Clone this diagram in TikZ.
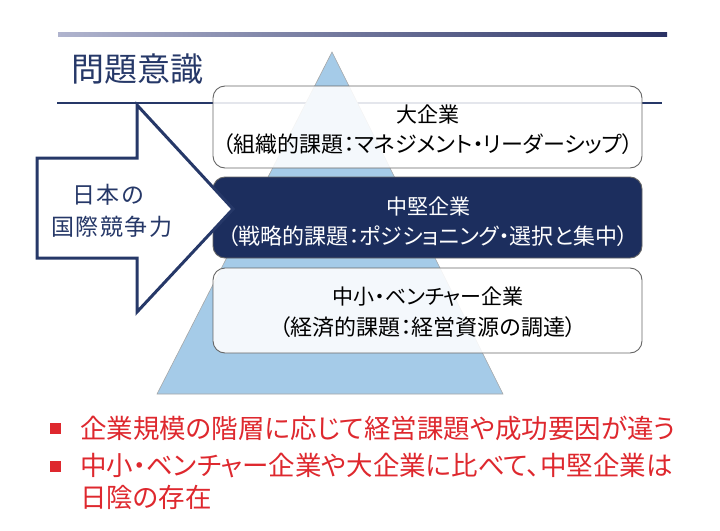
\documentclass[tikz,border=0pt]{standalone}
\usepackage{fontspec}
\setmainfont{Noto Sans CJK JP}[RawFeature=+palt]
\usetikzlibrary{shapes.geometric}
\definecolor{navy}{RGB}{38,56,104}
\definecolor{boxnavy}{RGB}{28,46,94}
\definecolor{pyr}{RGB}{165,203,232}
\definecolor{bred}{RGB}{222,40,46}
\definecolor{barleft}{RGB}{176,180,206}
\definecolor{barright}{RGB}{42,50,100}
\tikzset{
  tier/.style={draw=gray!80!black, line width=0.9pt, rounded corners=12pt},
  lightbox/.style={tier, fill=white, fill opacity=0.88},
  darkbox/.style={tier, fill=boxnavy},
  boxhead/.style={font=\fontsize{21}{24}\selectfont, align=center, inner sep=0pt},
  boxtext/.style={font=\fontsize{22}{26}\selectfont, align=center, inner sep=0pt},
  arrowtext/.style={font=\fontsize{23}{26}\selectfont, text=navy, inner sep=0pt},
  bullettext/.style={font=\fontsize{26.5}{30}\selectfont, text=bred, anchor=west, inner sep=0pt},
  bulletmark/.style={fill=bred, minimum size=11pt, inner sep=0pt},
}
\begin{document}
\begin{tikzpicture}[x=1pt,y=-1pt]
\useasboundingbox (0,0) rectangle (720,530);
% top gradient bar
\shade[left color=barleft, right color=barright] (58,32) rectangle (667,36);
% title
\node[font=\fontsize{33}{36}\selectfont, text=navy, inner sep=0pt] (title) at (137,69) {問題意識};
\draw[navy, line width=1.4pt] (57,103) -- (662,103);
% pyramid
\filldraw[fill=pyr, draw=gray!70, line width=0.6pt] (332,52) -- (503,394) -- (157,394) -- cycle;
% tiers
\draw[lightbox] (213,86) rectangle (642,168);
\draw[darkbox] (213,177) rectangle (642,258);
\draw[lightbox] (213,268) rectangle (642,353);
\node[boxhead] (t1) at (428,114) {大企業};
\node[boxtext] (t1b) at (428,144) {（組織的課題：マネジメント・リーダーシップ）};
\node[boxhead, text=white] (t2) at (428,206) {中堅企業};
\node[boxtext, text=white] (t2b) at (428,236) {（戦略的課題：ポジショニング・選択と集中）};
\node[boxhead] (t3) at (428,297) {中小・ベンチャー企業};
\node[boxtext] (t3b) at (428,327) {（経済的課題：経営資源の調達）};
% block arrow
\filldraw[fill=white, draw=navy, line width=3pt, line join=miter]
  (37,158) -- (137,158) -- (137,105) -- (233,209) -- (137,312) -- (137,258) -- (37,258) -- cycle;
\node[arrowtext] (a1) at (108,195) {日\hspace{1.5pt}本\hspace{1.5pt}の};
\node[arrowtext] (a2) at (112,227) {国\hspace{1.5pt}際\hspace{1.5pt}競\hspace{1.5pt}争\hspace{1.5pt}力};
% bullets
\node[bulletmark] (b1) at (55,428) {};
\node[bullettext] (bt1) at (80,428) {企業規模の階層に応じて経営課題や成功要因が違う};
\node[bulletmark] (b2) at (55,466) {};
\node[bullettext] (bt2) at (80,466) {中小・ベンチャー企業や大企業に比べて、中堅企業は};
\node[bullettext] (bt3) at (80,497) {日陰の存在};
\end{tikzpicture}
\end{document}
